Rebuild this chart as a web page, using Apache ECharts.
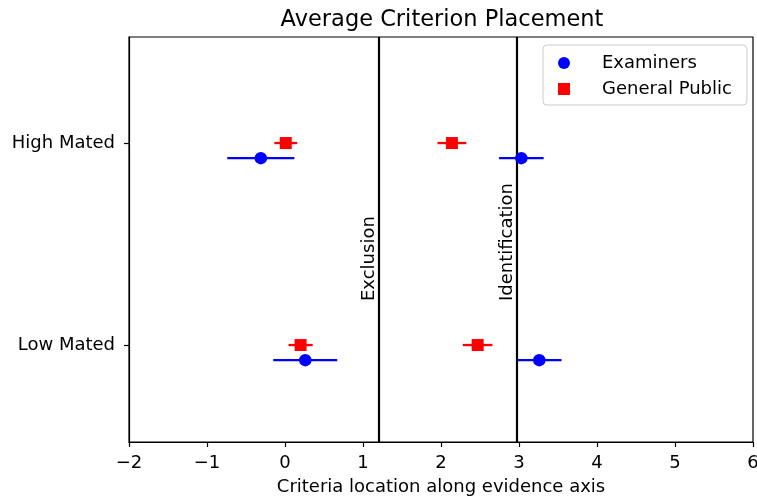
<!DOCTYPE html>
<html><head><meta charset="utf-8">
<script src="https://cdn.jsdelivr.net/npm/echarts@6/dist/echarts.min.js"></script>
<style>html,body{margin:0;padding:0;background:#fff}#c{width:757px;height:501px}</style>
</head><body><div id="c"></div>
<script>
// ---- data ----
const categories = ['Low Mated', 'High Mated'];
const categoryPositions = [0, 1];
const examinerMeans = [0.26, -0.31];
const examinerErrors = [0.41, 0.43];
const examinerMeansRight = [3.26, 3.03];
const examinerErrorsRight = [0.285, 0.286];
const publicMeans = [0.20, 0.01];
const publicErrors = [0.155, 0.147];
const publicMeansRight = [2.47, 2.14];
const publicErrorsRight = [0.19, 0.185];
const criterionNames = ['Exclusion', 'Identification'];
const criterionValues = [1.20, 2.97];
const xTickValues = [-2, -1, 0, 1, 2, 3, 4, 5, 6];

// ---- layout / style constants ----
const FONT = 'DejaVu Sans';
const EXAM_OFFSET = -0.075;
const LABEL_Y = 0.218;
const BLUE = '#0000ff', RED = '#ff0000';

function pts(means, errs, off) {
  return means.map((m, i) => [m, categoryPositions[i] + off, m - errs[i], m + errs[i]]);
}
const examPts = pts(examinerMeans, examinerErrors, EXAM_OFFSET).concat(pts(examinerMeansRight, examinerErrorsRight, EXAM_OFFSET));
const pubPts = pts(publicMeans, publicErrors, 0).concat(pts(publicMeansRight, publicErrorsRight, 0));

function errRender(color) {
  return function (params, api) {
    const a = api.coord([api.value(2), api.value(1)]);
    const b = api.coord([api.value(3), api.value(1)]);
    return { type: 'line', shape: { x1: a[0], y1: a[1], x2: b[0], y2: b[1] },
      style: { stroke: color, lineWidth: 2.3 } };
  };
}

const chart = echarts.init(document.getElementById('c'), null, { renderer: 'canvas' });
chart.setOption({
  animation: false,
  backgroundColor: '#ffffff',
  textStyle: { fontFamily: FONT },
  title: {
    text: 'Average Criterion Placement', left: 437, top: 4, textAlign: 'center',
    textStyle: { fontFamily: FONT, fontSize: 22.5, fontWeight: 'normal', color: '#000' }
  },
  grid: { left: 129, right: 4, top: 37, bottom: 59, show: true, borderColor: '#000', borderWidth: 1.2,
    containLabel: false, outerBoundsMode: 'none' },
  legend: {
    orient: 'vertical', left: 543, top: 45, padding: [9, 15, 7, 15],
    backgroundColor: '#fff', borderColor: '#cccccc', borderWidth: 1, borderRadius: 4,
    itemWidth: 12, itemHeight: 12, itemGap: 8,
    textStyle: { fontFamily: FONT, fontSize: 18, color: '#000', padding: [0, 0, 0, 27] },
    data: [{ name: 'Examiners', icon: 'circle' }, { name: 'General Public', icon: 'rect' }]
  },
  xAxis: {
    type: 'value', min: -2, max: 6, interval: 1,
    name: 'Criteria location along evidence axis', nameLocation: 'middle', nameGap: 36,
    nameTextStyle: { fontFamily: FONT, fontSize: 18, color: '#000' },
    axisLine: { show: true, onZero: false, lineStyle: { color: '#000', width: 1.2 } },
    axisTick: { show: true, length: 5, lineStyle: { color: '#000', width: 1.2 } },
    axisLabel: { fontFamily: FONT, fontSize: 18, color: '#000', margin: 12,
      formatter: v => (v < 0 ? '\u2212' + Math.abs(v) : String(v)) },
    splitLine: { show: false }
  },
  yAxis: {
    type: 'value', min: -0.48, max: 1.525,
    axisLine: { show: true, onZero: false, lineStyle: { color: '#000', width: 1.2 } },
    axisTick: { show: true, length: 5, lineStyle: { color: '#000', width: 1.2 }, customValues: categoryPositions },
    axisLabel: { fontFamily: FONT, fontSize: 18, color: '#000', margin: 14,
      customValues: categoryPositions, formatter: v => categories[categoryPositions.indexOf(v)] || '' },
    splitLine: { show: false }
  },
  series: [
    {
      type: 'scatter', name: '_lines', data: [], silent: true,
      markLine: {
        silent: true, symbol: 'none', animation: false,
        lineStyle: { color: '#000', width: 2.2, type: 'solid' },
        label: { show: false },
        data: criterionValues.map(v => ({ xAxis: v }))
      }
    },
    {
      type: 'scatter', name: '_labels', silent: true, symbolSize: 0,
      itemStyle: { opacity: 1 },
      data: criterionValues.map((v, i) => ({ value: [v, LABEL_Y], name: criterionNames[i] })),
      label: {
        show: true, position: 'inside', rotate: 90, formatter: p => p.name,
        align: 'left', verticalAlign: 'bottom', offset: [0, 0],
        fontFamily: FONT, fontSize: 18, color: '#000', opacity: 1, textBorderWidth: 0
      }
    },
    { type: 'custom', name: '_errE', renderItem: errRender(BLUE), data: examPts, encode: { x: [0, 2, 3], y: 1 }, z: 3 },
    { type: 'custom', name: '_errP', renderItem: errRender(RED), data: pubPts, encode: { x: [0, 2, 3], y: 1 }, z: 3 },
    { type: 'scatter', name: 'Examiners', symbol: 'circle', symbolSize: 12.5, itemStyle: { color: BLUE, opacity: 1 }, data: examPts.map(p => [p[0], p[1]]), z: 5 },
    { type: 'scatter', name: 'General Public', symbol: 'rect', symbolSize: 12, itemStyle: { color: RED, opacity: 1 }, data: pubPts.map(p => [p[0], p[1]]), z: 5 }
  ]
});
</script>
</body></html>
